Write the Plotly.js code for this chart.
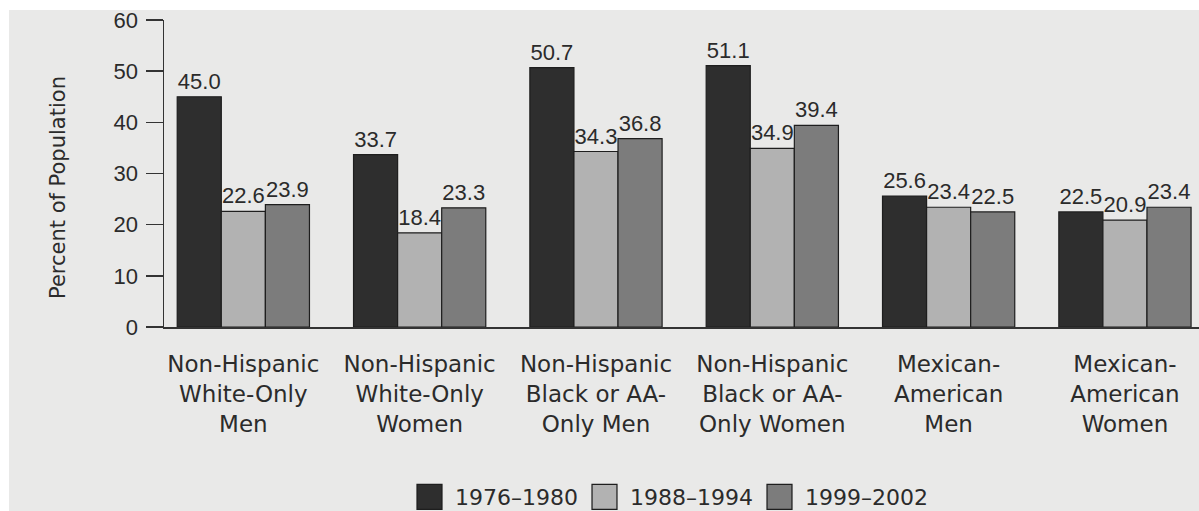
<!DOCTYPE html>
<html>
<head>
<meta charset="utf-8">
<script src="https://cdn.plot.ly/plotly-3.0.1.min.js"></script>
<style>
  html, body { margin: 0; padding: 0; background: #ffffff; }
  #chart { width: 1199px; height: 511px; }
</style>
</head>
<body>
<div id="chart"></div>
<script>
const categories = [
  "Non-Hispanic<br>White-Only<br>Men",
  "Non-Hispanic<br>White-Only<br>Women",
  "Non-Hispanic<br>Black or AA-<br>Only Men",
  "Non-Hispanic<br>Black or AA-<br>Only Women",
  "Mexican-<br>American<br>Men",
  "Mexican-<br>American<br>Women"
];
const seriesNames = ["1976–1980", "1988–1994", "1999–2002"];
const values1976 = [45.0, 33.7, 50.7, 51.1, 25.6, 22.5];
const values1988 = [22.6, 18.4, 34.3, 34.9, 23.4, 20.9];
const values1999 = [23.9, 23.3, 36.8, 39.4, 22.5, 23.4];
const yTicks = [0, 10, 20, 30, 40, 50, 60];
const yTitle = "Percent of Population";

const colors = ["#2e2e2e", "#b2b2b2", "#7c7c7c"];
const allValues = [values1976, values1988, values1999];
const FONT = "DejaVu Sans, sans-serif";
const NUMFONT = "Liberation Sans, Arial, sans-serif";
const TXT = "#2b2b2b";

const traces = allValues.map((vals, i) => ({
  type: "bar",
  name: seriesNames[i],
  x: categories,
  y: vals,
  text: vals.map(v => v.toFixed(1)),
  textposition: "outside",
  constraintext: "none",
  cliponaxis: false,
  textfont: { family: NUMFONT, size: 22, color: TXT },
  marker: { color: colors[i], line: { color: "#1e1e1e", width: 1.2 } },
  hoverinfo: "skip"
}));

const layout = {
  width: 1199,
  height: 511,
  margin: { l: 164, r: 0, t: 20, b: 184, autoexpand: false },
  paper_bgcolor: "#ffffff",
  plot_bgcolor: "rgba(0,0,0,0)",
  barmode: "group",
  bargap: 0.25,
  bargroupgap: 0,
  showlegend: true,
  legend: {
    orientation: "h",
    x: (415 - 164) / 1035, xanchor: "left",
    y: (327 - 497) / 307, yanchor: "middle",
    font: { family: FONT, size: 22, color: TXT },
    bgcolor: "rgba(0,0,0,0)",
    itemwidth: 30,
    entrywidth: 130,
    entrywidthmode: "pixels",
    traceorder: "normal"
  },
  xaxis: {
    type: "category",
    range: [-0.45, 5.42],
    showline: true,
    linecolor: "#333333",
    linewidth: 1.5,
    ticks: "",
    showgrid: false,
    zeroline: false,
    tickfont: { family: FONT, size: 23, color: TXT },
    ticklabelstandoff: 16,
    fixedrange: true
  },
  yaxis: {
    range: [0, 60],
    tickvals: yTicks,
    ticktext: yTicks.map(String),
    ticks: "outside",
    ticklen: 17,
    tickwidth: 1.5,
    tickcolor: "#333333",
    showline: true,
    linecolor: "#333333",
    linewidth: 1.5,
    showgrid: false,
    zeroline: false,
    tickfont: { family: NUMFONT, size: 22, color: TXT },
    ticklabelstandoff: 3,
    fixedrange: true
  },
  annotations: [{
    text: yTitle,
    xref: "paper", yref: "paper",
    x: (58 - 164) / 1035, y: (327 - 188) / 307,
    xanchor: "center", yanchor: "middle",
    textangle: -90, showarrow: false,
    font: { family: FONT, size: 21, color: TXT }
  }],
  shapes: [{
    type: "rect", xref: "paper", yref: "paper", layer: "below",
    x0: -155 / 1035, x1: 1.05, y0: -1, y1: 1 + 10 / 307,
    fillcolor: "#e9e9e8", line: { width: 0 }
  }]
};

Plotly.newPlot("chart", traces, layout, { displayModeBar: false, staticPlot: true }).then(gd => {
  gd.querySelectorAll(".legend .legendpoints path").forEach(p => {
    p.setAttribute("transform", "translate(14.5,0) scale(2.08)");
    p.style.strokeWidth = "0.6px";
  });
});
</script>
</body>
</html>
